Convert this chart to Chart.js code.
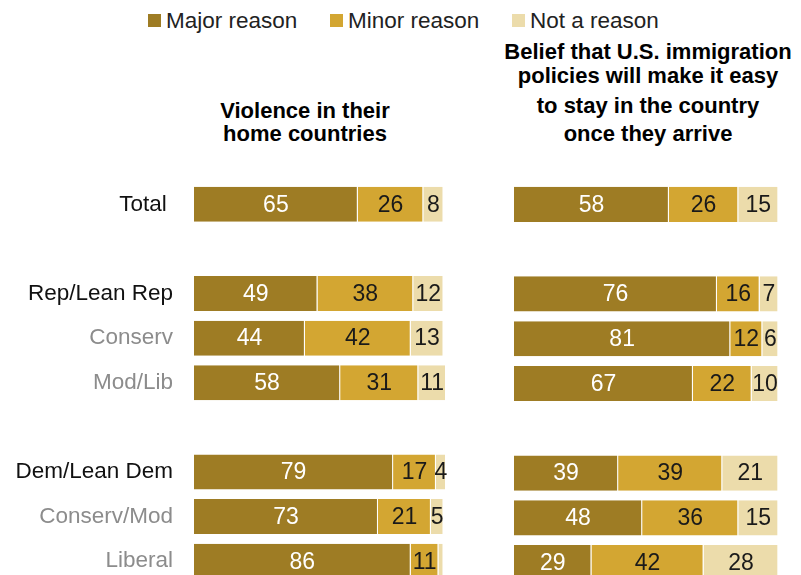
<!DOCTYPE html>
<html>
<head>
<meta charset="utf-8">
<script src="https://cdn.jsdelivr.net/npm/chart.js@4"></script>
<style>
  html, body { margin: 0; padding: 0; background: #fff; overflow: hidden; }
  #wrap { position: relative; width: 801px; height: 575px; overflow: hidden; font-family: "Liberation Sans", Arial, sans-serif; }
  canvas { position: absolute; top: 0; }
  #left-chart { left: 0; }
  #right-chart { left: 460px; }
  .legend-box { position: absolute; top: 14px; width: 13px; height: 13px; }
  .legend-text { position: absolute; top: 9.5px; font-size: 22.5px; line-height: 22.5px; color: #222; white-space: nowrap; }
  .title-line { position: absolute; width: 400px; text-align: center; font-size: 22px; line-height: 22px; font-weight: bold; color: #000; white-space: nowrap; }
</style>
</head>
<body>
<div id="wrap">
  <div id="legend"></div>
  <div id="titles"></div>
  <canvas id="left-chart" width="460" height="618"></canvas>
  <canvas id="right-chart" width="341" height="602"></canvas>
</div>
<script>
// categories (blank entries are the gaps between groups)
const categories = ['Total ', '', 'Rep/Lean Rep', 'Conserv', 'Mod/Lib', '', 'Dem/Lean Dem', 'Conserv/Mod', 'Liberal'];
const seriesNames = ['Major reason', 'Minor reason', 'Not a reason'];

// Violence in their home countries
const violenceMajor = [65, null, 49, 44, 58, null, 79, 73, 86];
const violenceMinor = [26, null, 38, 42, 31, null, 17, 21, 11];
const violenceNot   = [8, null, 12, 13, 11, null, 4, 5, 2];

// Belief that U.S. immigration policies will make it easy to stay
const policyMajor = [58, null, 76, 81, 67, null, 39, 48, 29];
const policyMinor = [26, null, 16, 12, 22, null, 39, 36, 42];
const policyNot   = [15, null, 7, 6, 10, null, 21, 15, 28];

const leftTitle = ['Violence in their', 'home countries'];
const rightTitle = ['Belief that U.S. immigration', 'policies will make it easy', 'to stay in the country', 'once they arrive'];

const colors = ['#9e7c24', '#d3a632', '#ecdcab'];
const labelColors = ['#ffffff', '#1a1a1a', '#1a1a1a'];
const grayRows = ['Conserv', 'Mod/Lib', 'Conserv/Mod', 'Liberal'];
const FONT = '"Liberation Sans", Arial, sans-serif';

// legend (html)
const legendEl = document.getElementById('legend');
const legendX = [148, 330, 512];
seriesNames.forEach((name, i) => {
    const box = document.createElement('div');
    box.className = 'legend-box';
    box.style.left = legendX[i] + 'px';
    box.style.background = colors[i];
    legendEl.appendChild(box);
    const txt = document.createElement('div');
    txt.className = 'legend-text';
    txt.style.left = (legendX[i] + 18) + 'px';
    txt.textContent = name;
    legendEl.appendChild(txt);
});

// panel titles (html)
const titlesEl = document.getElementById('titles');
function addTitle(lines, centerX, baselines) {
    lines.forEach((line, i) => {
        const d = document.createElement('div');
        d.className = 'title-line';
        d.style.left = (centerX - 200) + 'px';
        d.style.top = (baselines[i] - 18.6) + 'px';
        d.textContent = line;
        titlesEl.appendChild(d);
    });
}
addTitle(leftTitle, 305, [118.5, 141.7]);
addTitle(rightTitle, 648, [59.3, 83.5, 113.3, 141.7]);

// value labels inside the segments
const valueLabels = {
    id: 'valueLabels',
    afterDatasetsDraw(chart) {
        const ctx = chart.ctx;
        ctx.save();
        ctx.font = '23px ' + FONT;
        ctx.textAlign = 'center';
        ctx.textBaseline = 'middle';
        chart.data.datasets.forEach((ds, di) => {
            const meta = chart.getDatasetMeta(di);
            meta.data.forEach((bar, i) => {
                const v = ds.data[i];
                if (v == null || v < 3) return;
                ctx.fillStyle = labelColors[di];
                ctx.fillText(String(v), (bar.x + bar.base) / 2, bar.y + 1);
            });
        });
        ctx.restore();
    }
};

function makeChart(id, values, showLabels, padding) {
    const ctx = document.getElementById(id).getContext('2d');
    return new Chart(ctx, {
        type: 'bar',
        data: {
            labels: categories,
            datasets: values.map((vals, i) => ({
                label: seriesNames[i],
                data: vals,
                backgroundColor: colors[i],
                borderColor: 'rgba(255,255,255,0.55)',
                borderWidth: { left: 0, right: 1, top: 0, bottom: 0 },
                borderSkipped: false,
                categoryPercentage: 1,
                barPercentage: 0.785
            }))
        },
        options: {
            indexAxis: 'y',
            responsive: false,
            animation: false,
            layout: { padding: padding },
            plugins: { legend: { display: false }, tooltip: { enabled: false } },
            scales: {
                x: { stacked: true, min: 0, max: 100, display: false },
                y: {
                    stacked: true,
                    display: showLabels,
                    grid: { display: false, drawTicks: false },
                    border: { display: false },
                    ticks: {
                        padding: 21,
                        font: { family: FONT, size: 22.5 },
                        color: c => grayRows.includes(categories[c.index]) ? '#8c8c8c' : '#111111'
                    },
                    afterFit: s => { s.width = showLabels ? 194 : 0; }
                }
            }
        },
        plugins: [valueLabels]
    });
}

// left canvas is taller: the tick labels add their own bottom padding
makeChart('left-chart', [violenceMajor, violenceMinor, violenceNot], true,
    { top: 182, bottom: 0, left: 0, right: 14 });
makeChart('right-chart', [policyMajor, policyMinor, policyNot], false,
    { top: 182, bottom: 17, left: 54, right: 20 });
</script>
</body>
</html>
